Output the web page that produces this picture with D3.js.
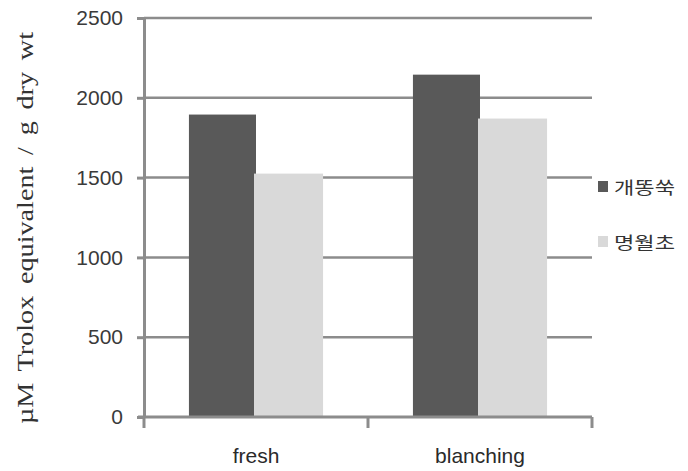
<!DOCTYPE html>
<html><head><meta charset="utf-8">
<script src="https://cdn.jsdelivr.net/npm/d3@7"></script>
<style>body{margin:0;background:#fff}svg{display:block}</style>
</head><body>
<svg id="c" width="688" height="471"></svg>
<script>
const categories = ["fresh", "blanching"];
const seriesNames = ["개똥쑥", "명월초"];
const series1 = [1895, 2145];
const series2 = [1525, 1870];
const yTicks = [0, 500, 1000, 1500, 2000, 2500];
const yLabel = "µM Trolox equivalent / g dry wt";
const colors = ["#595959", "#d9d9d9"];

const svg = d3.select("#c");
const x0 = 144, x1 = 592, yTop = 18, yBot = 417;
const x = d3.scaleBand().domain(categories).range([x0, x1]).paddingInner(0).paddingOuter(0);
const xs = d3.scaleBand().domain(seriesNames).range([0, x.bandwidth()]).paddingInner(0).paddingOuter(0.67);
const y = d3.scaleLinear().domain([0, 2500]).range([yBot, yTop]);

// gridlines
svg.append("g").selectAll("line").data(yTicks.filter(d => d > 0)).join("line")
  .attr("x1", x0).attr("x2", x1).attr("y1", d => y(d)).attr("y2", d => y(d))
  .attr("stroke", "#8c8c8c").attr("stroke-width", 2.5);

// bars
const data = categories.map((c, i) => ({c, vals: [series1[i], series2[i]]}));
const g = svg.append("g");
data.forEach(d => {
  d.vals.forEach((v, j) => {
    g.append("rect")
      .attr("x", x(d.c) + xs(seriesNames[j]) - (j === 1 ? 2 : 0))
      .attr("width", xs.bandwidth() + (j === 1 ? 2 : 0))
      .attr("y", y(v)).attr("height", y(0) - y(v))
      .attr("fill", colors[j]);
  });
});

// y axis
const ya = d3.axisLeft(y).tickValues(yTicks).tickFormat(d3.format("d")).tickSize(7).tickSizeOuter(0).tickPadding(8);
const yg = svg.append("g").attr("transform", `translate(${x0},0)`).call(ya);
yg.select(".domain").attr("stroke", "#8c8c8c").attr("stroke-width", 3);
yg.selectAll(".tick line").attr("stroke", "#8c8c8c").attr("stroke-width", 3);
yg.selectAll(".tick text").attr("font-family", "Liberation Sans, Arial, sans-serif")
  .attr("font-size", 21).attr("fill", "#3a3a3a").attr("x", -21);

// x axis
const xa = d3.axisBottom(x).tickSize(0).tickPadding(0);
const xg = svg.append("g").attr("transform", `translate(0,${yBot})`).call(xa);
xg.select(".domain").remove();
xg.append("line").attr("x1", x0 - 6).attr("x2", x1).attr("y1", 0).attr("y2", 0)
  .attr("stroke", "#8c8c8c").attr("stroke-width", 3);
xg.selectAll(".bt").data([x0, x0 + x.bandwidth(), x1]).join("line").attr("class", "bt")
  .attr("x1", d => d).attr("x2", d => d).attr("y1", 0).attr("y2", 11)
  .attr("stroke", "#8c8c8c").attr("stroke-width", 3);
xg.selectAll(".tick text").attr("font-family", "Liberation Sans, Arial, sans-serif")
  .attr("font-size", 21).attr("fill", "#2a2a2a").attr("dy", 0).attr("y", 46);

// y label
svg.append("text").attr("transform", "translate(33,228) scale(1.3,1) rotate(-90)")
  .attr("text-anchor", "middle").attr("font-family", "Liberation Serif, serif")
  .attr("font-size", 18).attr("fill", "#333").attr("word-spacing", 3)
  .attr("textLength", 392).attr("lengthAdjust", "spacingAndGlyphs")
  .text(yLabel);

// legend
const leg = svg.append("g");
seriesNames.forEach((n, i) => {
  const ly = 187 + i * 55;
  leg.append("rect").attr("x", 598).attr("y", ly - 6).attr("width", 10).attr("height", 11).attr("fill", colors[i]);
  leg.append("text").attr("transform", `translate(614,${ly + 7}) scale(1.3,1)`)
    .attr("font-family", "Noto Sans CJK KR, sans-serif").attr("font-size", 17).attr("fill", "#333")
    .text(n);
});
</script>
</body></html>
